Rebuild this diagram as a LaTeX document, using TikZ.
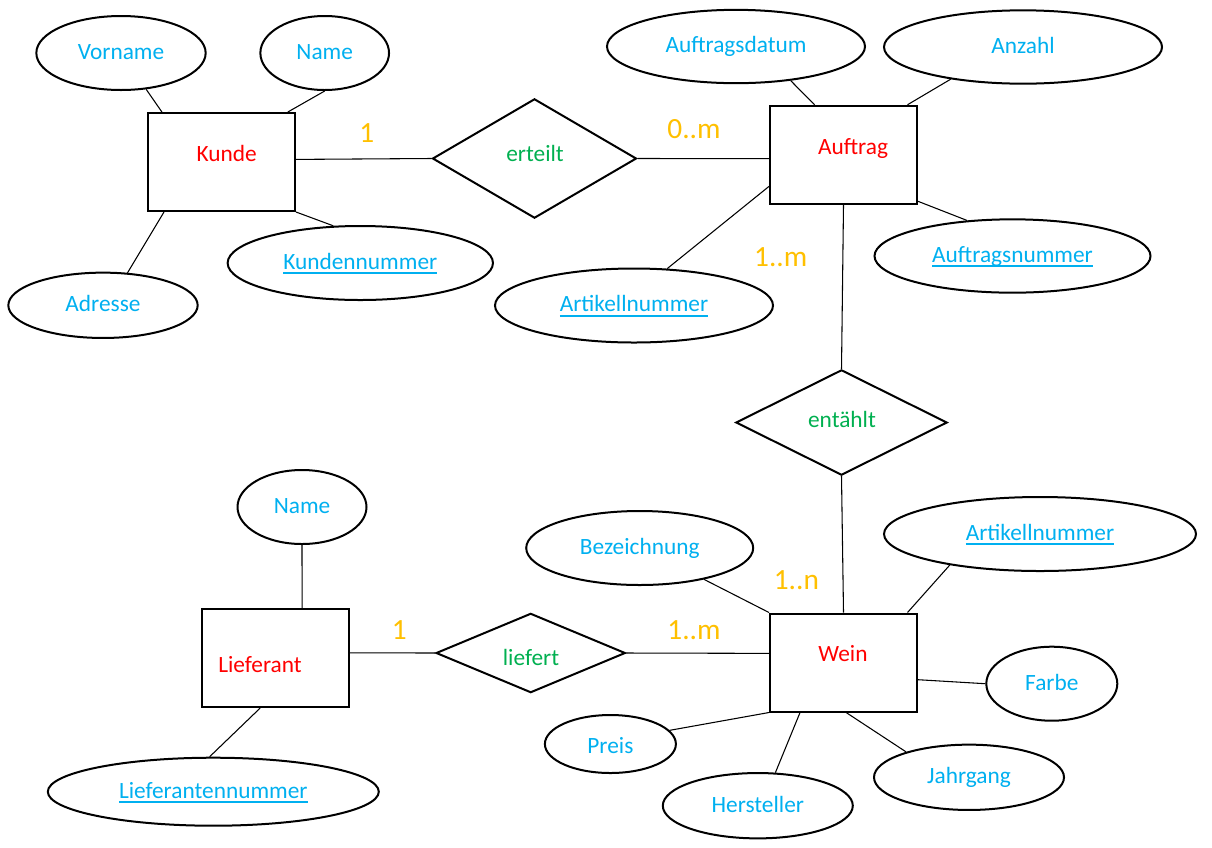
\documentclass[tikz,border=0pt]{standalone}
\usepackage{fontspec}
\setmainfont{Carlito}
\usetikzlibrary{shapes.geometric}
\definecolor{attrblue}{HTML}{00B0F0}
\definecolor{entred}{HTML}{FF0000}
\definecolor{relgreen}{HTML}{00B050}
\definecolor{cardorange}{HTML}{FFC000}
\newsavebox\myulbox
\newcommand\ulin[1]{\sbox\myulbox{#1}\rlap{\color{attrblue}\rule[-3.6pt]{\wd\myulbox}{1.4pt}}\usebox\myulbox}
\begin{document}
\begin{tikzpicture}[x=0.75pt,y=-0.75pt,
  font=\fontsize{17.5}{21}\selectfont,
  entity/.style={draw, line width=1.5pt, rectangle, inner sep=0pt, minimum width=110.25pt, minimum height=73.5pt},
  attr/.style={draw, line width=1.5pt, ellipse, inner sep=0pt, text=attrblue, text height=1.2em, text depth=0.24em},
  rel/.style={draw, line width=1.5pt, diamond, inner sep=0pt},
  enttext/.style={text=entred, anchor=base, inner sep=0pt},
  reltext/.style={text=relgreen, anchor=base, inner sep=0pt},
  card/.style={text=cardorange, inner sep=0pt, font=\fontsize{22}{26}\selectfont},
  conn/.style={draw, line width=0.8pt}
]
\fill[white] (0,0) rectangle (1212,847);
\useasboundingbox (0,0) rectangle (1212,847);

% entities
\node[entity] (kunde) at (221.5,162) {};
\node[entity] (auftrag) at (843.5,154.75) {};
\node[entity] (wein) at (843.5,662.5) {};
\node[entity] (lieferant) at (275.5,658) {};
\node[enttext] (kundeT) at (226.7,161) {Kunde};
\node[enttext] (auftragT) at (853,154) {Auftrag};
\node[enttext] (weinT) at (843,661) {Wein};
\node[enttext] (lieferantT) at (260,672.7) {Lieferant};

% relationships
\node[rel, minimum width=153pt, minimum height=89.5pt] (erteilt) at (534.5,158.5) {};
\node[rel, minimum width=158.5pt, minimum height=79pt] (entaehlt) at (841.5,422.5) {};
\node[rel, minimum width=142pt, minimum height=59.5pt] (liefert) at (530.7,653) {};
\node[reltext] (erteiltT) at (535,161.5) {erteilt};
\node[reltext] (entaehltT) at (842,427.5) {entählt};
\node[reltext] (liefertT) at (531,665.5) {liefert};

% attributes
\node[attr, minimum width=127pt, minimum height=55.5pt] (vorname) at (121,53) {Vorname};
\node[attr, minimum width=96.5pt, minimum height=55.5pt] (name1) at (324.7,53) {Name};
\node[attr, minimum width=199pt, minimum height=55.5pt] (kundennr) at (360.3,263) {\ulin{Kundennummer}};
\node[attr, minimum width=142pt, minimum height=49pt] (adresse) at (103,305.3) {Adresse};
\node[attr, minimum width=193.5pt, minimum height=55pt] (auftragsdatum) at (736,46.5) {Auftragsdatum};
\node[attr, minimum width=208.5pt, minimum height=55pt] (anzahl) at (1023,47) {Anzahl};
\node[attr, minimum width=207pt, minimum height=55pt] (auftragsnr) at (1012.5,256) {\ulin{Auftragsnummer}};
\node[attr, minimum width=208.5pt, minimum height=55.5pt] (artikel1) at (634,305.5) {\ulin{Artikellnummer}};
\node[attr, minimum width=170.25pt, minimum height=55.5pt] (bezeichnung) at (639.7,548) {Bezeichnung};
\node[attr, minimum width=234pt, minimum height=55.5pt] (artikel2) at (1040,534) {\ulin{Artikellnummer}};
\node[attr, minimum width=98.25pt, minimum height=55.5pt] (farbe) at (1051.8,683.7) {Farbe};
\node[attr, minimum width=142.5pt, minimum height=49pt] (jahrgang) at (969,777.3) {Jahrgang};
\node[attr, minimum width=142.5pt, minimum height=49pt] (hersteller) at (757.8,805.7) {Hersteller};
\node[attr, minimum width=98.25pt, minimum height=43.5pt, text height=1.65em] (preis) at (610.4,744) {Preis};
\node[attr, minimum width=96.75pt, minimum height=55.5pt] (name2) at (302,507) {Name};
\node[attr, minimum width=248.25pt, minimum height=51pt] (liefnr) at (213.3,791.7) {\ulin{Lieferantennummer}};

% relationship connectors
\draw[conn] (kunde.2) -- (erteilt.west);
\draw[conn] (erteilt.east) -- (auftrag.183);
\draw[conn] (auftrag.south) -- (entaehlt.north);
\draw[conn] (entaehlt.south) -- (wein.north);
\draw[conn] (lieferant.4) -- (liefert.west);
\draw[conn] (liefert.east) -- (wein.173);

% attribute connectors
\draw[conn] (vorname) -- (kunde.140);
\draw[conn] (name1.south) -- (kunde.37);
\draw[conn] (kunde.south east) -- (kundennr.126);
\draw[conn] (adresse.53) -- (kunde.221);
\draw[conn] (auftragsdatum.-32) -- (auftrag.120);
\draw[conn] (anzahl.204) -- (auftrag.38);
\draw[conn] (auftrag.-32) -- (auftragsnr.142);
\draw[conn] (artikel1.48) -- (auftrag.203);
\draw[conn] (bezeichnung.-26) -- (wein.north west);
\draw[conn] (artikel2.199) -- (wein.38);
\draw[conn] (wein.-13) -- (farbe.west);
\draw[conn] (wein.-87) -- (jahrgang.158);
\draw[conn] (wein.229) -- (hersteller.62);
\draw[conn] (preis.13) -- (wein.south west);
\draw[conn] (name2.south) -- (lieferant.62);
\draw[conn] (lieferant.-107) -- (liefnr.96);

% cardinalities
\node[card] (c1) at (366.7,132.7) {1};
\node[card] (c2) at (694,129) {0..m};
\node[card] (c3) at (780.7,256.7) {1..m};
\node[card] (c4) at (796.4,580) {1..n};
\node[card] (c5) at (694,630) {1..m};
\node[card] (c6) at (399.3,630) {1};
\end{tikzpicture}
\end{document}
